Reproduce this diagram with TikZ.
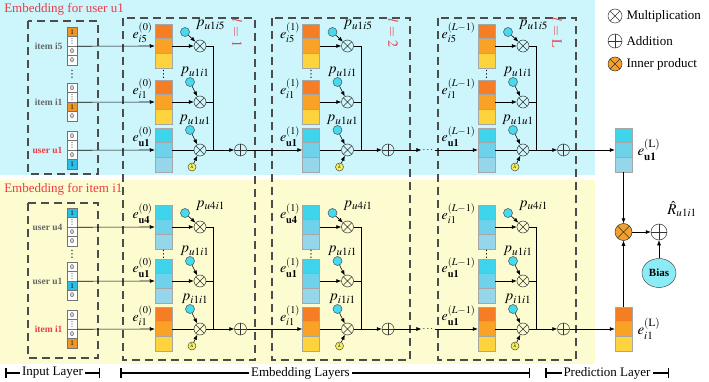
\documentclass[tikz,border=0pt]{standalone}
\usepackage{mathptmx}
\usepackage{fontspec}
\setmainfont{Liberation Serif}
\newfontfamily\dejavu{DejaVu Sans}
\usepackage{xcolor}
\usepackage{tikz}
\usetikzlibrary{shapes,arrows,arrows.meta,positioning}

\definecolor{bgU}{RGB}{204,246,252}
\definecolor{bgD}{RGB}{253,251,208}
\definecolor{o1}{RGB}{245,125,35}
\definecolor{o2}{RGB}{249,162,38}
\definecolor{o3}{RGB}{253,212,62}
\definecolor{c1}{RGB}{62,212,236}
\definecolor{c2}{RGB}{110,210,234}
\definecolor{c3}{RGB}{150,214,234}
\definecolor{hotO}{RGB}{240,150,40}
\definecolor{hotC}{RGB}{45,190,230}
\definecolor{pC}{RGB}{70,218,240}
\definecolor{lamY}{RGB}{246,240,90}
\definecolor{ipO}{RGB}{245,160,45}
\definecolor{biasC}{RGB}{140,236,246}
\definecolor{redT}{RGB}{236,60,70}

\tikzset{
    dashbox/.style = {draw=black!70, line width=2pt, dash pattern=on 8pt off 5pt},
    bit/.style = {rectangle, draw=black!55, fill=white, line width=0.5pt, minimum width=10pt, minimum height=9.5pt, inner sep=0pt, font=\fontsize{7}{7}\selectfont},
    ecell/.style = {rectangle, draw=black!35, line width=0.5pt, minimum width=17pt, minimum height=14.6pt, inner sep=0pt},
    mult/.style = {circle, draw=black!80, line width=0.5pt, minimum size=12pt, inner sep=0pt,
        path picture={\draw[black!80, line width=0.5pt] (path picture bounding box.north west) -- (path picture bounding box.south east)
            (path picture bounding box.north east) -- (path picture bounding box.south west);}},
    add/.style = {circle, draw=black!80, line width=0.5pt, minimum size=12pt, inner sep=0pt,
        path picture={\draw[black!80, line width=0.5pt] (path picture bounding box.north) -- (path picture bounding box.south)
            (path picture bounding box.east) -- (path picture bounding box.west);}},
    inprod/.style = {mult, fill=ipO, minimum size=17pt},
    pdot/.style = {circle, draw=black!70, fill=pC, line width=0.5pt, minimum size=9pt, inner sep=0pt},
    lam/.style = {circle, draw=black!70, fill=lamY, line width=0.5pt, minimum size=8pt, inner sep=0pt, font=\fontsize{5}{5}\selectfont},
    elab/.style = {anchor=south east, inner sep=0pt, font=\fontsize{14}{14}\selectfont},
    plab/.style = {inner sep=0pt, font=\fontsize{15}{15}\selectfont},
    inlab/.style = {anchor=east, inner sep=0pt, text=black!60, font=\fontsize{9.5}{9.5}\selectfont\bfseries},
    grouptitle/.style = {anchor=west, inner sep=0pt, text=redT, font=\fontsize{13}{13}\selectfont},
    laylab/.style = {rotate=-90, inner sep=0pt, text=redT, font=\fontsize{14}{14}\selectfont},
    vdot/.style = {inner sep=0pt, font=\fontsize{10}{10}\selectfont\dejavu},
    legtxt/.style = {anchor=west, inner sep=0pt, font=\fontsize{13}{13}\selectfont},
    layeraxis/.style = {line width=1.5pt, {Bar[width=10pt]}-{Bar[width=10pt]}},
    axlab/.style = {fill=white, inner sep=2pt, font=\fontsize{13}{13}\selectfont},
    bias/.style = {ellipse, draw=black!70, fill=biasC, line width=0.5pt, minimum width=34pt, minimum height=29pt, inner sep=0pt, font=\fontsize{11}{11}\selectfont\bfseries}
}

% one-hot input vector: name, row, hot cell, colour
\newcommand{\hotvec}[4]{%
    \foreach \k in {1,2,3,4}{
        \ifnum\k=#3 \node[bit, fill=#4] (#1-\k) at (72,{#2+(\k-2.5)*9.5}) {1};
        \else\ifnum\k=2 \node[bit] (#1-\k) at (72,{#2+(\k-2.5)*9.5}) {\dejavu ⋮};
        \else \node[bit] (#1-\k) at (72,{#2+(\k-2.5)*9.5}) {0};\fi\fi
    }}

% embedding column of three cells: name, x, row, colour set
\newcommand{\ecol}[4]{%
    \node[ecell, fill=#41] (#11) at (#2,{#3-14.6}) {};
    \node[ecell, fill=#42] (#12) at (#2,#3) {};
    \node[ecell, fill=#43] (#13) at (#2,{#3+14.6}) {};}

% rows: name/row/colours/e index/p index
\def\rowsU{a/46/o/i5/u1i5, b/102/o/i1/u1i1, c/150/c/\mathbf{u1}/u1u1}
\def\rowsD{a/227/c/\mathbf{u4}/u4i1, b/281/c/\mathbf{u1}/u1i1, c/329/o/i1/i1i1}
\def\rowsDL{a/227/c/i1/u4i1, b/281/c/\mathbf{u1}/u1i1, c/329/o/\mathbf{u1}/i1i1}

% one half of an embedding layer: name, x, superscript, rows
\newcommand{\halflayer}[4]{%
    \foreach \rw/\ry/\rs/\re/\rp in #4 {
        \ecol{#1\rw}{#2}{\ry}{\rs}
        \node[elab] at ([shift={(-2,-3)}]#1\rw2.west) {$e_{\re}^{#3}$};
        \node[mult] (#1\rw m) at ({#2+36.5},\ry) {};
        \if a\rw
            \node[pdot] (#1\rw p) at ([shift={(-15,-14)}]#1\rw m) {};
            \node[plab, anchor=west] at ([shift={(6,-7)}]#1\rw p.east) {$p_{\rp}$};
        \else
            \node[pdot] (#1\rw p) at ([shift={(-10,-20)}]#1\rw m) {};
            \node[plab, anchor=south] at ([shift={(5,0)}]#1\rw p.north) {$p_{\rp}$};
        \fi
        \draw[->] (#1\rw p) -- (#1\rw m);
        \if c\rw
            \draw (#1\rw2.east) -- (#1\rw m);
        \else
            \draw[->] (#1\rw2.east) -- (#1\rw m);
        \fi
    }
    \path (#1a3.south) -- node[vdot] (#1v) {⋮} (#1b1.north);
    \node[lam] (#1l) at ([shift={(-8,17)}]#1cm) {$\lambda$};
    \draw[->] (#1l) -- (#1cm);
    \coordinate (#1j) at ([xshift=13.5pt]#1cm.center);
    \node[add] (#1s) at ([xshift=40.5pt]#1cm.center) {};
    \draw (#1am) -| (#1j);
    \draw (#1bm) -- (#1bm -| #1j);
    \draw[->] (#1cm) -- (#1s);}

\begin{document}
\begin{tikzpicture}[x=1pt, y=-1pt, >={Latex[length=5pt,width=4pt]}, line width=0.6pt]
    \useasboundingbox (0,0) rectangle (709,382);
    % backgrounds
    \fill[bgU] (0,0) rectangle (595,175);
    \fill[bgD] (0,180) rectangle (595,364);
    \node[grouptitle] (titleU) at (4,9) {Embedding for user u1};
    \node[grouptitle] (titleD) at (4,189) {Embedding for item i1};

    % dashed frames
    \draw[dashbox] (28,21) rectangle (98,174);
    \draw[dashbox] (28,203) rectangle (98,358);
    \draw[dashbox] (123,18) rectangle (255,360);
    \draw[dashbox] (272,18) rectangle (410,360);
    \draw[dashbox] (438,18) rectangle (576,360);
    \node[laylab] (lone) at (237,33) {$l=1$};
    \node[laylab] (ltwo) at (393,33) {$l=2$};
    \node[laylab] (llast) at (557,33) {$l=\mathrm{L}$};

    % input layer
    \hotvec{Ui5}{46}{1}{hotO}
    \hotvec{Ui1}{102}{3}{hotO}
    \hotvec{Uu1}{150}{4}{hotC}
    \hotvec{Du4}{227}{1}{hotC}
    \hotvec{Du1}{281}{3}{hotC}
    \hotvec{Di1}{329}{4}{hotO}
    \node[inlab] at ([xshift=-4pt]Ui5-2.south west) {item i5};
    \node[inlab] at ([xshift=-4pt]Ui1-2.south west) {item i1};
    \node[inlab, text=redT] at ([xshift=-4pt]Uu1-2.south west) {user u1};
    \node[inlab] at ([xshift=-4pt]Du4-2.south west) {user u4};
    \node[inlab] at ([xshift=-4pt]Du1-2.south west) {user u1};
    \node[inlab, text=redT] at ([xshift=-4pt]Di1-2.south west) {item i1};
    \path (Ui5-4.south) -- node[vdot] (Uvd) {⋮} (Ui1-1.north);
    \path (Du4-4.south) -- node[vdot] (Dvd) {⋮} (Du1-1.north);

    % embedding layers
    \halflayer{U1}{163.5}{(0)}{\rowsU}
    \halflayer{D1}{163.5}{(0)}{\rowsD}
    \halflayer{U2}{311}{(1)}{\rowsU}
    \halflayer{D2}{311}{(1)}{\rowsD}
    \halflayer{U3}{486.5}{(L-1)}{\rowsU}
    \halflayer{D3}{486.5}{(L-1)}{\rowsDL}

    \draw[->] (Ui5-2.south east) -- (U1a2.west);
    \draw[->] (Ui1-2.south east) -- (U1b2.west);
    \draw[->] (Uu1-2.south east) -- (U1c2.west);
    \draw[->] (Du4-2.south east) -- (D1a2.west);
    \draw[->] (Du1-2.south east) -- (D1b2.west);
    \draw[->] (Di1-2.south east) -- (D1c2.west);

    \node[inner sep=1pt] (Udots) at (428,150) {$\cdots$};
    \node[inner sep=1pt] (Ddots) at (428,329) {$\cdots$};
    \draw[->] (U1s) -- (U2c2.west);
    \draw[->] (D1s) -- (D2c2.west);
    \draw[->] (U2s) -- (Udots.west);
    \draw[->] (D2s) -- (Ddots.west);
    \draw[->] (Udots.east) -- (U3c2.west);
    \draw[->] (Ddots.east) -- (D3c2.west);

    % prediction layer
    \ecol{Fu}{623.5}{150}{c}
    \ecol{Fi}{623.5}{329}{o}
    \draw[->] (U3s) -- (Fu2.west);
    \draw[->] (D3s) -- (Fi2.west);
    \node[plab, right=5pt of Fu2] (eFu) {$e_{\mathbf{u1}}^{(\mathrm{L})}$};
    \node[plab, right=5pt of Fi2] (eFi) {$e_{i1}^{(\mathrm{L})}$};
    \node[inprod] (ip) at (623.5,232) {};
    \node[add, minimum size=16pt] (sum) at (659,232) {};
    \node[bias] (bias) at (659,273) {Bias};
    \node[plab] (rhat) at (682,209) {$\hat{R}_{u1i1}$};
    \draw[->] (Fu3.south) -- (ip);
    \draw[->] (Fi1.north) -- (ip);
    \draw[->] (ip) -- (sum);
    \draw[->] (bias) -- (sum);

    % legend
    \node[mult, minimum size=14pt] (lgmul) at (615,16) {};
    \node[add, minimum size=14pt] (lgadd) at (615,41) {};
    \node[inprod, minimum size=14pt] (lgip) at (615,64) {};
    \node[legtxt, right=4pt of lgmul] {Multiplication};
    \node[legtxt, right=4pt of lgadd] {Addition};
    \node[legtxt, right=4pt of lgip] {Inner product};

    % layer axis
    \coordinate (inL) at (5,373);
    \coordinate (inR) at (100,373);
    \coordinate (emL) at (120,373);
    \coordinate (emR) at (530,373);
    \coordinate (prL) at (545,373);
    \coordinate (prR) at (669,373);
    \draw[layeraxis] (inL) -- node[axlab] {Input Layer} (inR);
    \draw[layeraxis] (emL) -- node[axlab, pos=0.44] {Embedding Layers} (emR);
    \draw[layeraxis] (prL) -- node[axlab] {Prediction Layer} (prR);
\end{tikzpicture}
\end{document}
